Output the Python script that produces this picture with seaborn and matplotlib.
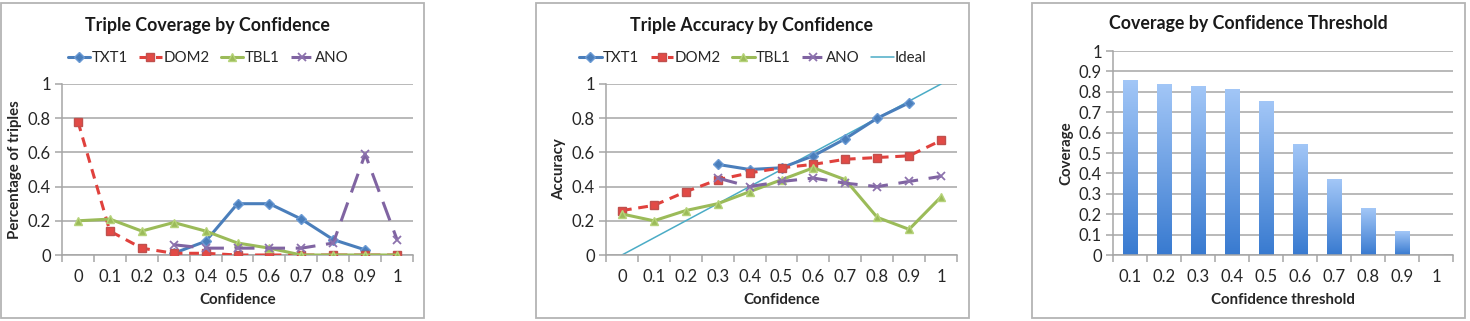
import numpy as np
import pandas as pd
import matplotlib
matplotlib.use("Agg")
import matplotlib.pyplot as plt
from matplotlib.patches import Rectangle
from matplotlib.ticker import FixedLocator
import seaborn as sns

# ---------------- data ----------------
conf_labels = ["0", "0.1", "0.2", "0.3", "0.4", "0.5", "0.6", "0.7", "0.8", "0.9", "1"]
conf_values = [0.0, 0.1, 0.2, 0.3, 0.4, 0.5, 0.6, 0.7, 0.8, 0.9, 1.0]

cov_txt1 = [np.nan, np.nan, np.nan, 0.01, 0.08, 0.30, 0.30, 0.21, 0.09, 0.03, np.nan]
cov_dom2 = [0.78, 0.14, 0.04, 0.01, 0.01, 0.00, 0.00, 0.00, 0.00, 0.00, 0.00]
cov_tbl1 = [0.20, 0.21, 0.14, 0.19, 0.14, 0.07, 0.04, 0.00, 0.00, 0.00, 0.00]
cov_ano = [np.nan, np.nan, np.nan, 0.06, 0.04, 0.04, 0.04, 0.04, 0.07, 0.59, 0.09]

acc_txt1 = [np.nan, np.nan, np.nan, 0.53, 0.50, 0.51, 0.58, 0.68, 0.80, 0.89, np.nan]
acc_dom2 = [0.26, 0.29, 0.37, 0.44, 0.48, 0.51, 0.53, 0.56, 0.57, 0.58, 0.67]
acc_tbl1 = [0.24, 0.20, 0.26, 0.30, 0.37, 0.44, 0.51, 0.44, 0.22, 0.15, 0.34]
acc_ano = [np.nan, np.nan, np.nan, 0.45, 0.40, 0.43, 0.45, 0.42, 0.40, 0.43, 0.46]
acc_ideal = [0.0, 0.1, 0.2, 0.3, 0.4, 0.5, 0.6, 0.7, 0.8, 0.9, 1.0]

thr_labels = ["0.1", "0.2", "0.3", "0.4", "0.5", "0.6", "0.7", "0.8", "0.9", "1"]
thr_coverage = [0.86, 0.84, 0.83, 0.815, 0.755, 0.545, 0.372, 0.228, 0.117, 0.0]

series_names = ["TXT1", "DOM2", "TBL1", "ANO"]

# ---------------- style ----------------
sns.set_theme(style="white")
FONT = ["Lato", "DejaVu Sans"]
plt.rcParams["font.family"] = FONT
plt.rcParams["axes.edgecolor"] = "#8c8c8c"

W, H = 1470, 321
fig = plt.figure(figsize=(W / 100, H / 100), dpi=100)
fig.patch.set_facecolor("white")

TICK_FS = 12
LABEL_FS = 10.8
LEG_FS = 10.8
TITLE_FS = 12.8


def px_axes(left, top, right, bottom):
    return fig.add_axes([left / W, 1 - bottom / H, (right - left) / W, (bottom - top) / H])


def box(left, top, right, bottom):
    fig.patches.append(Rectangle((left / W, 1 - bottom / H), (right - left) / W, (bottom - top) / H,
                                 transform=fig.transFigure, fill=False, edgecolor="#b4b4b4",
                                 linewidth=1.3, zorder=0))


GRID = "#a6a6a6"

styles = {
    "TXT1": dict(color="#4a7ebb", marker="D", markersize=4.6, mfc="#4a7ebb", mec="#6a9ad4", dashes=None),
    "DOM2": dict(color="#e0413d", marker="s", markersize=5.8, mfc="#e24a46", mec="#c0504d", dashes=(3.2, 2.2)),
    "TBL1": dict(color="#9bbb59", marker="^", markersize=6.0, mfc="#9bbb59", mec="#b6d37a", dashes=None),
    "ANO": dict(color="#8064a2", marker="x", markersize=5.5, mfc="#8064a2", mec="#8c72ad", dashes=(6.5, 3.5)),
}


def style_axes(ax, n, yticks, ylabels):
    ax.set_xlim(-0.5, n - 0.5)
    ax.set_ylim(0, 1)
    ax.set_yticks(yticks)
    ax.set_yticklabels(ylabels, fontsize=TICK_FS, color="#262626")
    ax.yaxis.grid(True, color=GRID, linewidth=1.1)
    ax.set_axisbelow(True)
    for s in ["top", "right"]:
        ax.spines[s].set_visible(False)
    for s in ["left", "bottom"]:
        ax.spines[s].set_color(GRID)
        ax.spines[s].set_linewidth(1.1)
    ax.tick_params(axis="y", which="major", length=5, width=1.1, color=GRID, direction="out", pad=3, left=True)
    ax.tick_params(axis="x", which="major", length=0, pad=10, labelsize=TICK_FS, labelcolor="#262626")
    ax.xaxis.set_minor_locator(FixedLocator(np.arange(-0.5, n, 1.0)))
    ax.tick_params(axis="x", which="minor", length=5, width=1.1, color=GRID, direction="out", bottom=True)


def line_panel(ax, data, extra=None):
    x = np.arange(len(conf_labels))
    for name, vals in data:
        st = styles[name]
        sns.lineplot(x=x, y=np.array(vals, dtype=float), ax=ax, color=st["color"], linewidth=2.2,
                     marker=st["marker"], markersize=st["markersize"], markerfacecolor=st["mfc"],
                     markeredgecolor=st["mec"], markeredgewidth=1.0 if name != "ANO" else 1.3,
                     label=name, zorder=3)
        ln = ax.lines[-1]
        if st["dashes"] is not None:
            ln.set_dashes(st["dashes"])
    if extra is not None:
        sns.lineplot(x=x, y=np.array(extra, dtype=float), ax=ax, color="#4bacc6", linewidth=1.1,
                     label="Ideal", zorder=2)
    ax.set_xticks(x)
    ax.set_xticklabels(conf_labels)


# ---------------- panel 1 ----------------
box(1, 3, 424, 318)
ax1 = px_axes(62, 84, 413, 255)
line_panel(ax1, [("TXT1", cov_txt1), ("DOM2", cov_dom2), ("TBL1", cov_tbl1), ("ANO", cov_ano)])
style_axes(ax1, 11, [0, 0.2, 0.4, 0.6, 0.8, 1.0], ["0", "0.2", "0.4", "0.6", "0.8", "1"])
ax1.set_xlabel("Confidence", fontsize=LABEL_FS, fontweight="bold", labelpad=6)
ax1.set_ylabel("Percentage of triples", fontsize=LABEL_FS, fontweight="bold", labelpad=4)
h, l = ax1.get_legend_handles_labels()
ax1.legend(h, l, loc="center", bbox_to_anchor=(208 / W, 1 - 58 / H), bbox_transform=fig.transFigure,
           ncol=4, frameon=False, fontsize=LEG_FS, handlelength=1.5, handletextpad=0.1, columnspacing=0.75)
fig.text(207 / W, 1 - 25 / H, "Triple Coverage by Confidence", ha="center", va="center",
         fontsize=TITLE_FS, fontweight="bold", color="#1a1a1a")

# ---------------- panel 2 ----------------
box(536, 3, 969, 318)
ax2 = px_axes(606, 84, 957, 255)
line_panel(ax2, [("TXT1", acc_txt1), ("DOM2", acc_dom2), ("TBL1", acc_tbl1), ("ANO", acc_ano)],
           extra=acc_ideal)
style_axes(ax2, 11, [0, 0.2, 0.4, 0.6, 0.8, 1.0], ["0", "0.2", "0.4", "0.6", "0.8", "1"])
ax2.set_xlabel("Confidence", fontsize=LABEL_FS, fontweight="bold", labelpad=6)
ax2.set_ylabel("Accuracy", fontsize=LABEL_FS, fontweight="bold", labelpad=4)
h, l = ax2.get_legend_handles_labels()
ax2.legend(h, l, loc="center", bbox_to_anchor=(753 / W, 1 - 58 / H), bbox_transform=fig.transFigure,
           ncol=5, frameon=False, fontsize=LEG_FS, handlelength=1.5, handletextpad=0.1, columnspacing=0.75)
fig.text(752 / W, 1 - 25 / H, "Triple Accuracy by Confidence", ha="center", va="center",
         fontsize=TITLE_FS, fontweight="bold", color="#1a1a1a")

# ---------------- panel 3 ----------------
box(1032, 3, 1465, 318)
ax3 = px_axes(1113, 51, 1453, 255)
df3 = pd.DataFrame({"threshold": thr_labels, "coverage": thr_coverage})
sns.barplot(data=df3, x="threshold", y="coverage", ax=ax3, color="#6fa0e6", width=0.42,
            order=thr_labels, saturation=1, zorder=2)
style_axes(ax3, 10, np.round(np.arange(0, 1.01, 0.1), 1),
           ["0", "0.1", "0.2", "0.3", "0.4", "0.5", "0.6", "0.7", "0.8", "0.9", "1"])
ax3.set_xticks(np.arange(10))
ax3.set_xticklabels(thr_labels)
ax3.set_xlim(-0.5, 9.5)

# vertical gradient fill for each bar
grad = np.linspace(0, 1, 256).reshape(-1, 1)
top_c = np.array([163, 199, 247]) / 255
bot_c = np.array([56, 122, 208]) / 255
img = (bot_c[None, None, :] * (1 - grad[:, :, None]) + top_c[None, None, :] * grad[:, :, None])
for p in ax3.patches:
    x0, y0 = p.get_x(), p.get_y()
    w, hgt = p.get_width(), p.get_height()
    if hgt <= 0:
        continue
    p.set_facecolor("none")
    p.set_edgecolor("none")
    im = ax3.imshow(img, extent=(x0, x0 + w, y0, y0 + hgt), origin="lower", aspect="auto", zorder=2)
    im.set_clip_path(p)
ax3.set_xlim(-0.5, 9.5)
ax3.set_ylim(0, 1)
ax3.set_xlabel("Confidence threshold", fontsize=LABEL_FS, fontweight="bold", labelpad=6)
ax3.set_ylabel("Coverage", fontsize=LABEL_FS, fontweight="bold", labelpad=4)
fig.text(1248 / W, 1 - 24 / H, "Coverage by Confidence Threshold", ha="center", va="center",
         fontsize=TITLE_FS, fontweight="bold", color="#1a1a1a")

fig.savefig("out.png", dpi=100, facecolor="white")
